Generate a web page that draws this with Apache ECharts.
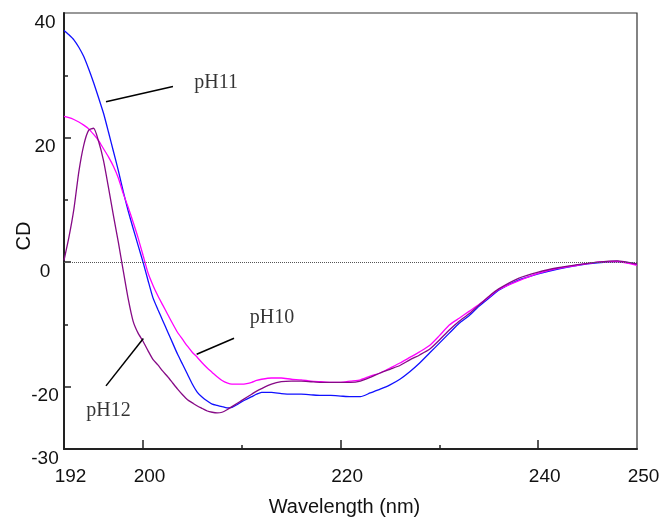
<!DOCTYPE html>
<html><head><meta charset="utf-8">
<script src="https://cdn.jsdelivr.net/npm/echarts@6/dist/echarts.min.js"></script>
<style>html,body{margin:0;padding:0;background:#fff}#c{width:662px;height:519px}</style>
</head><body><div id="c"></div>
<script>
// ---- data ----
const wavelength = [
  192,192.5,193,193.5,194,194.5,195,195.5,196,196.5,197,197.5,198,198.5,199,199.5,200,
  200.5,201,201.5,202,202.5,203,203.5,204,204.5,205,205.5,206,206.5,207,207.5,208,208.5,
  209,209.5,210,210.5,211,211.5,212,
  213,214,215,216,217,218,219,220,221,222,223,224,225,226,227,228,229,230,231,232,233,234,235,236,
  238,240,242,244,246,248,250
];
const cdPH11 = [
  37.2,36.5,35.7,34.5,33.0,31.0,28.8,26.4,23.9,20.9,17.8,14.7,11.3,8.2,5.4,2.7,0,
  -2.9,-5.7,-7.6,-9.4,-11.2,-13.0,-14.8,-16.4,-18.0,-19.6,-20.9,-21.7,-22.3,-22.8,-23.0,-23.2,-23.4,
  -23.3,-22.9,-22.4,-22.0,-21.6,-21.2,-20.9,
  -20.9,-21.1,-21.2,-21.2,-21.3,-21.4,-21.4,-21.5,-21.6,-21.6,-21.0,-20.4,-19.7,-18.8,-17.6,-16.2,-14.6,-13.0,-11.4,-9.8,-8.6,-7.1,-5.8,-4.5,
  -2.9,-1.9,-1.1,-0.5,-0.1,0.1,-0.3
];
const cdPH10 = [
  23.4,23.2,22.9,22.5,22.0,21.4,20.5,19.5,18.2,16.9,15.4,13.5,11.0,8.8,6.4,3.9,1.1,
  -1.7,-3.7,-5.4,-6.9,-8.4,-9.9,-11.3,-12.4,-13.5,-14.5,-15.3,-16.2,-17.0,-17.7,-18.4,-19.0,-19.4,
  -19.6,-19.6,-19.6,-19.5,-19.3,-19.0,-18.8,
  -18.6,-18.6,-18.8,-18.9,-19.1,-19.2,-19.3,-19.3,-19.1,-18.9,-18.3,-17.8,-17.0,-16.2,-15.3,-14.4,-13.4,-11.8,-10.1,-9.0,-7.9,-6.8,-5.6,-4.4,
  -3.0,-1.8,-1.0,-0.5,0.0,0.1,-0.5
];
const cdPH12 = [
  0.3,4.0,8.5,14.5,18.8,21.2,21.5,19.4,16.3,12.0,7.5,3.2,-1.4,-5.9,-9.5,-11.4,-12.7,
  -14.2,-15.6,-16.5,-17.5,-18.4,-19.4,-20.4,-21.3,-22.1,-22.6,-23.1,-23.5,-23.9,-24.1,-24.2,-24.1,-23.7,
  -23.2,-22.7,-22.2,-21.7,-21.2,-20.7,-20.3,
  -19.6,-19.2,-19.1,-19.1,-19.2,-19.3,-19.3,-19.3,-19.3,-19.1,-18.5,-17.8,-17.2,-16.6,-15.7,-14.9,-14.0,-12.5,-10.9,-9.5,-8.3,-6.9,-5.5,-4.3,
  -2.6,-1.6,-0.9,-0.4,0.0,0.2,-0.3
];
const xLabelValues = [192, 200, 220, 240, 250];
const xMajorTicks = [200, 220, 240];
const xMinorTicks = [210, 230];
const yLabelValues = [-30, -20, 0, 20, 40];
const yMajorTicks = [-20, 0, 20];
const yMinorTicks = [-10, 10, 30];
const annotationText = ['pH11', 'pH10', 'pH12'];
const annotationTextAt = [[207.4, 28.8], [213.05, -9.0], [196.5, -23.9]];
const annotationLineFrom = [[196.25, 25.75], [205.43, -14.78], [196.25, -19.87]];
const annotationLineTo = [[203.03, 28.2], [209.21, -12.21], [200.03, -12.26]];

// ---- chart ----
const chart = echarts.init(document.getElementById('c'), null, {renderer: 'canvas'});
const pairs = ys => wavelength.map((x, i) => [x, ys[i]]);
const sans = 'Liberation Sans';
const tickStyle = {color: '#222', width: 1.5};

const series = [
  {name: 'pH11', type: 'line', data: pairs(cdPH11), symbol: 'none', smooth: 0.2,
   lineStyle: {color: '#1010ff', width: 1.3}, z: 3,
   markLine: {silent: true, symbol: 'none', data: [{yAxis: 0}], label: {show: false},
     lineStyle: {type: [1, 1], color: '#555', width: 1}}},
  {name: 'pH10', type: 'line', data: pairs(cdPH10), symbol: 'none', smooth: 0.2,
   lineStyle: {color: '#ff00ff', width: 1.3}, z: 3},
  {name: 'pH12', type: 'line', data: pairs(cdPH12), symbol: 'none', smooth: 0.2,
   lineStyle: {color: '#860a86', width: 1.3}, z: 4}
];
annotationText.forEach((t, i) => {
  series.push({type: 'line', data: [annotationLineFrom[i], annotationLineTo[i]], symbol: 'none',
    lineStyle: {color: '#000', width: 1.5}, silent: true, z: 5});
  series.push({type: 'scatter', data: [annotationTextAt[i]], symbolSize: 0, silent: true, z: 5,
    label: {show: true, position: 'inside', formatter: t, fontFamily: 'Liberation Serif',
      fontSize: 20, color: '#000'}});
});

chart.setOption({
  animation: false,
  backgroundColor: '#fff',
  grid: {left: 64, right: 25, top: 13, bottom: 70, show: true, borderColor: '#333', borderWidth: 1.2,
    containLabel: false, outerBoundsMode: 'none'},
  xAxis: [
    {type: 'value', min: 192, max: 250, position: 'bottom', splitLine: {show: false},
     axisLine: {onZero: false, lineStyle: {color: '#222', width: 2}},
     axisTick: {inside: true, length: 9, customValues: xMajorTicks, lineStyle: tickStyle},
     axisLabel: {customValues: xLabelValues, margin: 18, fontSize: 19, fontFamily: sans, color: '#111',
       padding: [0, 0, 0, 13]},
     name: 'Wavelength (nm)', nameLocation: 'middle', nameGap: 48, nameMoveOverlap: false,
     nameTextStyle: {fontSize: 20, fontFamily: sans, color: '#111', padding: [0, 12, 0, 0]}},
    {type: 'value', min: 192, max: 250, position: 'bottom', splitLine: {show: false},
     axisLine: {show: false, onZero: false},
     axisTick: {inside: true, length: 4, customValues: xMinorTicks, lineStyle: tickStyle},
     axisLabel: {show: false}}
  ],
  yAxis: [
    {type: 'value', min: -30, max: 40, position: 'left', splitLine: {show: false},
     axisLine: {onZero: false, lineStyle: {color: '#222', width: 2}},
     axisTick: {inside: true, length: 7, customValues: yMajorTicks, lineStyle: tickStyle},
     axisLabel: {customValues: yLabelValues, margin: 19, align: 'center', verticalAlign: 'top',
       lineHeight: 19, fontSize: 19, fontFamily: sans, color: '#111'},
     name: 'CD', nameLocation: 'middle', nameGap: 30, nameRotate: 90, nameMoveOverlap: false,
     nameTextStyle: {fontSize: 20, fontFamily: sans, color: '#111', padding: [0, 10, 0, 0]}},
    {type: 'value', min: -30, max: 40, position: 'left', splitLine: {show: false},
     axisLine: {show: false, onZero: false},
     axisTick: {inside: true, length: 4, customValues: yMinorTicks, lineStyle: tickStyle},
     axisLabel: {show: false}}
  ],
  series: series
});
</script></body></html>
